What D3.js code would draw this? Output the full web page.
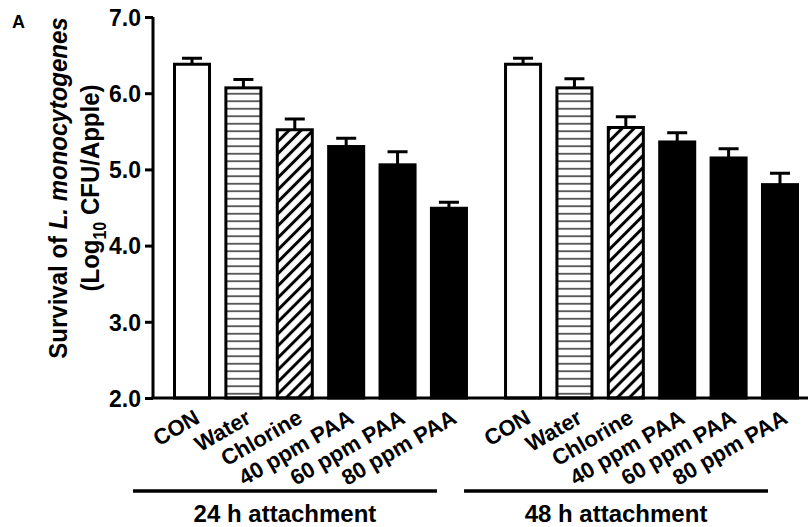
<!DOCTYPE html>
<html>
<head>
<meta charset="utf-8">
<script src="https://cdn.jsdelivr.net/npm/d3@7"></script>
<style>
  body { margin: 0; background: #fff; }
  text { font-family: "Liberation Sans", Arial, sans-serif; font-weight: bold; fill: #000; }
</style>
</head>
<body>
<div id="chart"></div>
<script>
// data
var groups = ["24 h attachment", "48 h attachment"];
var treatments = ["CON", "Water", "Chlorine", "40 ppm PAA", "60 ppm PAA", "80 ppm PAA"];
var fills = ["white", "url(#hlines)", "url(#diag)", "black", "black", "black"];
var means24 = [6.38, 6.07, 5.52, 5.30, 5.06, 4.49];
var err24 = [0.08, 0.11, 0.14, 0.11, 0.17, 0.08];
var means48 = [6.38, 6.07, 5.55, 5.36, 5.15, 4.80];
var err48 = [0.08, 0.12, 0.14, 0.12, 0.12, 0.15];
var yTicks = [2, 3, 4, 5, 6, 7];

var width = 808, height = 527;
var stretch = 1.1; // title glyphs look a bit wider in the source

var svg = d3.select("#chart").append("svg")
    .attr("width", width)
    .attr("height", height);

var defs = svg.append("defs");

var hl = defs.append("pattern")
    .attr("id", "hlines")
    .attr("patternUnits", "userSpaceOnUse")
    .attr("width", 10)
    .attr("height", 7.5);
hl.append("rect").attr("width", 10).attr("height", 7.5).attr("fill", "white");
hl.append("line")
    .attr("x1", 0).attr("x2", 10)
    .attr("y1", 3.75).attr("y2", 3.75)
    .attr("stroke", "#222").attr("stroke-width", 1.4);

var dg = defs.append("pattern")
    .attr("id", "diag")
    .attr("patternUnits", "userSpaceOnUse")
    .attr("width", 8.5)
    .attr("height", 10)
    .attr("patternTransform", "rotate(45)");
dg.append("rect").attr("width", 8.5).attr("height", 10).attr("fill", "white");
dg.append("line")
    .attr("x1", 4.25).attr("x2", 4.25)
    .attr("y1", 0).attr("y2", 10)
    .attr("stroke", "black").attr("stroke-width", 3);

var y = d3.scaleLinear().domain([2, 7]).range([398, 17]);

var xGroup = d3.scaleBand()
    .domain(groups)
    .range([173, 799])
    .paddingInner(0.109);

var xBar = d3.scaleBand()
    .domain(treatments)
    .range([0, xGroup.bandwidth()])
    .paddingInner(0.26);

var axisX = 153;

// y axis
var yAxis = svg.append("g")
    .attr("transform", "translate(" + axisX + ",0)")
    .call(d3.axisLeft(y).tickValues(yTicks).tickFormat(d3.format(".1f")).tickSize(8).tickPadding(4));
yAxis.select(".domain").attr("stroke-width", 3).attr("d", "M0," + y(7) + "V" + y(2));
yAxis.selectAll(".tick line").attr("stroke-width", 3);
yAxis.selectAll(".tick text")
    .style("font-size", "23px")
    .style("font-family", "Liberation Sans, Arial, sans-serif")
    .style("font-weight", "bold")
    .attr("dy", "0.36em");

// y title
var title = svg.append("text")
    .attr("transform", "translate(67,188) scale(" + stretch + ",1) rotate(-90)")
    .attr("text-anchor", "middle")
    .style("font-size", "24px");
title.append("tspan").text("Survival of ");
title.append("tspan").style("font-style", "italic").text("L. monocytogenes");

var title2 = svg.append("text")
    .attr("transform", "translate(99,188) scale(" + stretch + ",1) rotate(-90)")
    .attr("text-anchor", "middle")
    .style("font-size", "24px");
title2.append("tspan").text("(Log");
title2.append("tspan").attr("dy", 6).style("font-size", "16px").text("10");
title2.append("tspan").attr("dy", -6).text(" CFU/Apple)");

svg.append("text")
    .attr("x", 12).attr("y", 28)
    .style("font-size", "18px")
    .text("A");

var series = [
  { group: groups[0], means: means24, errs: err24 },
  { group: groups[1], means: means48, errs: err48 }
];

series.forEach(function(s) {
  var g = svg.append("g")
      .attr("transform", "translate(" + xGroup(s.group) + ",0)");

  var rows = treatments.map(function(t, i) {
    return { name: t, v: s.means[i], e: s.errs[i], fill: fills[i] };
  });

  // error bars (upper only)
  g.selectAll(".err")
      .data(rows)
      .enter().append("path")
      .attr("class", "err")
      .attr("fill", "none")
      .attr("stroke", "black")
      .attr("stroke-width", 3)
      .attr("d", function(d) {
        var cx = xBar(d.name) + xBar.bandwidth() / 2;
        return "M" + cx + "," + y(d.v) + "V" + y(d.v + d.e) +
          "M" + (cx - 10) + "," + y(d.v + d.e) + "H" + (cx + 10);
      });

  g.selectAll(".bar")
      .data(rows)
      .enter().append("rect")
      .attr("class", "bar")
      .attr("x", function(d) { return xBar(d.name) + 1.5; })
      .attr("width", xBar.bandwidth() - 3)
      .attr("y", function(d) { return y(d.v); })
      .attr("height", function(d) { return y(2) - y(d.v); })
      .attr("fill", function(d) { return d.fill; })
      .attr("stroke", "black")
      .attr("stroke-width", 3);

  // rotated category labels
  g.selectAll(".lab")
      .data(rows)
      .enter().append("text")
      .attr("class", "lab")
      .attr("text-anchor", "end")
      .style("font-size", "22px")
      .attr("transform", function(d) {
        var cx = xBar(d.name) + xBar.bandwidth() / 2 + 9;
        return "translate(" + cx + ",422) rotate(-30)";
      })
      .text(function(d) { return d.name; });

  // group bracket line and label
  var x0 = -40, x1 = xGroup.bandwidth() - 31;
  g.append("line")
      .attr("x1", x0).attr("x2", x1)
      .attr("y1", 491).attr("y2", 491)
      .attr("stroke", "black")
      .attr("stroke-width", 3.5);
  g.append("text")
      .attr("x", (x0 + x1) / 2)
      .attr("y", 522)
      .attr("text-anchor", "middle")
      .style("font-size", "24px")
      .text(s.group);
});

// x baseline
svg.append("line")
    .attr("x1", axisX - 1.5).attr("x2", width)
    .attr("y1", y(2)).attr("y2", y(2))
    .attr("stroke", "black")
    .attr("stroke-width", 3);
</script>
</body>
</html>
